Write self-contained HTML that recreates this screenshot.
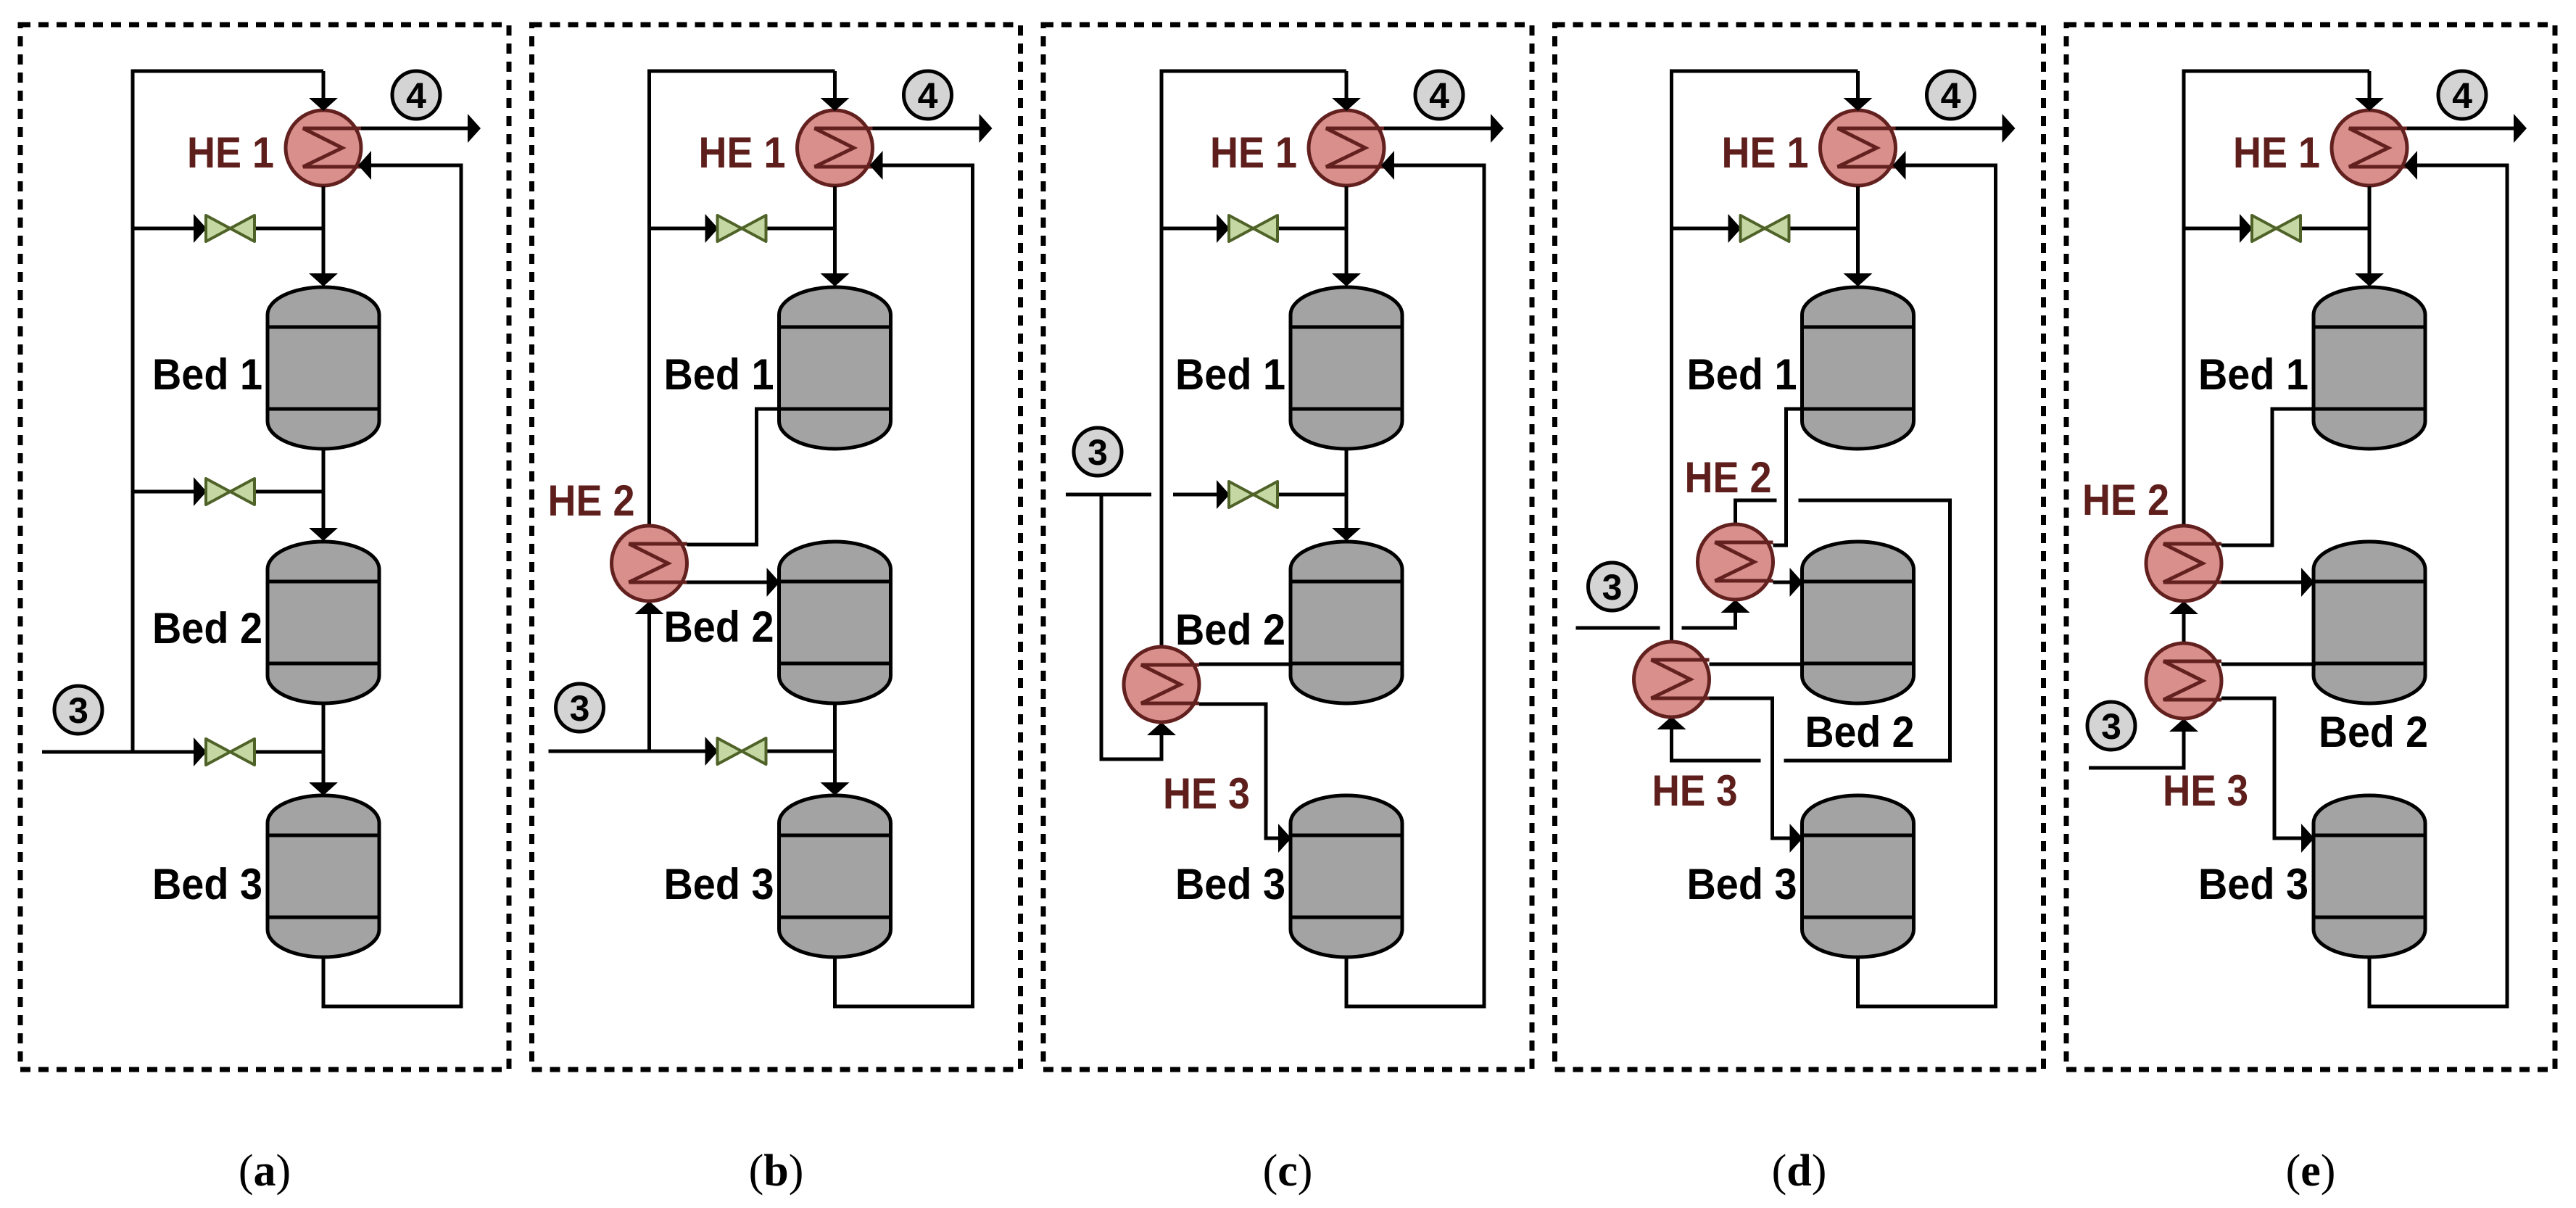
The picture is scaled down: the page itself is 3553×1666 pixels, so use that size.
<!DOCTYPE html>
<html><head><meta charset="utf-8"><style>html,body{margin:0;padding:0;background:#fff}svg{display:block}</style></head>
<body>
<svg xmlns="http://www.w3.org/2000/svg" xmlns:xlink="http://www.w3.org/1999/xlink" width="3553" height="1666" viewBox="0 0 3553 1666">
<defs>
<g id="bed">
<path d="M-77,38 A77,38 0 0 1 77,38 L77,185 A77,38 0 0 1 -77,185 Z" fill="#a3a3a3" stroke="#000" stroke-width="5"/>
<line x1="-77" y1="55" x2="77" y2="55" stroke="#000" stroke-width="5"/>
<line x1="-77" y1="168" x2="77" y2="168" stroke="#000" stroke-width="5"/>
</g>
<g id="he">
<circle cx="0" cy="0" r="52" fill="#d98f8c" stroke="#62201e" stroke-width="5"/>
<path d="M52,-27 L-28,-27 L26,0 L-28,26 L52,26" fill="none" stroke="#62201e" stroke-width="5"/>
</g>
<g id="valve">
<path d="M0,-18 L67,18 L67,-18 L0,18 Z" fill="#c5d8a4" stroke="#4f6228" stroke-width="4" stroke-linejoin="round"/>
</g>
<g id="box">
<rect x="28" y="34" width="674" height="1441" fill="none" stroke="#000" stroke-width="7" stroke-dasharray="14 11"/>
</g>
<g id="common">
<use xlink:href="#box"/>
<use xlink:href="#he" x="446" y="204"/>
<use xlink:href="#bed" x="446" y="396"/>
<use xlink:href="#bed" x="446" y="747"/>
<use xlink:href="#bed" x="446" y="1097"/>
<g stroke="#000" stroke-width="5" fill="none">
<path d="M446,98 L446,136"/>
<path d="M498,177 L646,177"/>
<path d="M511,228 L636,228 L636,1388 L446,1388 L446,1321"/>
<path d="M446,257 L446,380"/>
<path d="M446,315 L351,315"/>
</g>
<g fill="#000">
<polygon points="426,135 466,135 446,153"/>
<polygon points="645,157 645,197 663,177"/>
<polygon points="512,208 512,248 494,228"/>
<polygon points="426,377 466,377 446,395"/>
</g>
<circle cx="574" cy="131" r="33" fill="#d4d4d4" stroke="#000" stroke-width="5"/>
<text x="574" y="149" font-family="Liberation Sans, sans-serif" font-weight="bold" font-size="50" text-anchor="middle">4</text>
<text x="258" y="231" font-family="Liberation Sans, sans-serif" font-weight="bold" font-size="60" fill="#5e1f1c" textLength="120" lengthAdjust="spacingAndGlyphs">HE 1</text>
<text x="210" y="537" font-family="Liberation Sans, sans-serif" font-weight="bold" font-size="60" textLength="152" lengthAdjust="spacingAndGlyphs">Bed 1</text>
<text x="210" y="1240" font-family="Liberation Sans, sans-serif" font-weight="bold" font-size="60" textLength="152" lengthAdjust="spacingAndGlyphs">Bed 3</text>
</g>
</defs>

<!-- Panel (a) -->
<g>
<use xlink:href="#common"/>
<g stroke="#000" stroke-width="5" fill="none">
<path d="M183,1037 L183,98 L446,98"/>
<path d="M183,315 L268,315"/>
<path d="M446,619 L446,730"/>
<path d="M183,678 L268,678 M351,678 L446,678"/>
<path d="M58,1037 L268,1037 M351,1037 L446,1037"/>
<path d="M446,971 L446,1081"/>
</g>
<g fill="#000">
<polygon points="267,295 267,335 285,315"/>
<polygon points="267,658 267,698 285,678"/>
<polygon points="267,1017 267,1057 285,1037"/>
<polygon points="426,728 466,728 446,746"/>
<polygon points="426,1079 466,1079 446,1097"/>
</g>
<use xlink:href="#valve" x="284" y="315"/>
<use xlink:href="#valve" x="284" y="678"/>
<use xlink:href="#valve" x="284" y="1037"/>
<circle cx="108" cy="979" r="33" fill="#d4d4d4" stroke="#000" stroke-width="5"/>
<text x="108" y="997" font-family="Liberation Sans, sans-serif" font-weight="bold" font-size="50" text-anchor="middle">3</text>
<text x="210" y="887" font-family="Liberation Sans, sans-serif" font-weight="bold" font-size="60" textLength="152" lengthAdjust="spacingAndGlyphs">Bed 2</text>
<text x="365" y="1635" font-family="Liberation Serif, serif" font-size="62" text-anchor="middle">(<tspan font-weight="bold">a</tspan>)</text>
</g>

<!-- Panel (b) -->
<g transform="translate(705.5,0)">
<use xlink:href="#common"/>
<g stroke="#000" stroke-width="5" fill="none">
<path d="M190,725 L190,98 L446,98"/>
<path d="M190,315 L268,315"/>
<path d="M242,751 L338,751 L338,564 L372,564"/>
<path d="M242,803 L352,803"/>
<path d="M51,1036 L268,1036 M351,1036 L446,1036"/>
<path d="M190,1036 L190,846"/>
<path d="M446,970 L446,1081"/>
</g>
<g fill="#000">
<polygon points="267,295 267,335 285,315"/>
<polygon points="352,783 352,823 370,803"/>
<polygon points="267,1016 267,1056 285,1036"/>
<polygon points="170,847 210,847 190,829"/>
<polygon points="426,1079 466,1079 446,1097"/>
</g>
<use xlink:href="#valve" x="284" y="315"/>
<use xlink:href="#valve" x="284" y="1036"/>
<use xlink:href="#he" x="190" y="777"/>
<circle cx="94" cy="976" r="33" fill="#d4d4d4" stroke="#000" stroke-width="5"/>
<text x="94" y="994" font-family="Liberation Sans, sans-serif" font-weight="bold" font-size="50" text-anchor="middle">3</text>
<text x="50" y="711" font-family="Liberation Sans, sans-serif" font-weight="bold" font-size="60" fill="#5e1f1c" textLength="120" lengthAdjust="spacingAndGlyphs">HE 2</text>
<text x="210" y="885" font-family="Liberation Sans, sans-serif" font-weight="bold" font-size="60" textLength="152" lengthAdjust="spacingAndGlyphs">Bed 2</text>
<text x="365" y="1635" font-family="Liberation Serif, serif" font-size="62" text-anchor="middle">(<tspan font-weight="bold">b</tspan>)</text>
</g>

<!-- Panel (c) -->
<g transform="translate(1411,0)">
<use xlink:href="#common"/>
<g stroke="#000" stroke-width="5" fill="none">
<path d="M191,892 L191,98 L446,98"/>
<path d="M191,315 L268,315"/>
<path d="M446,619 L446,730"/>
<path d="M59,682 L177,682 M207,682 L268,682 M351,682 L446,682"/>
<path d="M108,682 L108,1047 L191,1047 L191,1013"/>
<path d="M243,916 L372,916"/>
<path d="M243,971 L335,971 L335,1156 L352,1156"/>
</g>
<g fill="#000">
<polygon points="267,295 267,335 285,315"/>
<polygon points="267,662 267,702 285,682"/>
<polygon points="426,728 466,728 446,746"/>
<polygon points="171,1014 211,1014 191,996"/>
<polygon points="352,1136 352,1176 370,1156"/>
</g>
<use xlink:href="#valve" x="284" y="315"/>
<use xlink:href="#valve" x="284" y="682"/>
<use xlink:href="#he" x="191" y="944"/>
<circle cx="103" cy="623" r="33" fill="#d4d4d4" stroke="#000" stroke-width="5"/>
<text x="103" y="641" font-family="Liberation Sans, sans-serif" font-weight="bold" font-size="50" text-anchor="middle">3</text>
<text x="193" y="1115" font-family="Liberation Sans, sans-serif" font-weight="bold" font-size="60" fill="#5e1f1c" textLength="120" lengthAdjust="spacingAndGlyphs">HE 3</text>
<text x="210" y="889" font-family="Liberation Sans, sans-serif" font-weight="bold" font-size="60" textLength="152" lengthAdjust="spacingAndGlyphs">Bed 2</text>
<text x="365" y="1635" font-family="Liberation Serif, serif" font-size="62" text-anchor="middle">(<tspan font-weight="bold">c</tspan>)</text>
</g>

<!-- Panel (d) -->
<g transform="translate(2116.5,0)">
<use xlink:href="#common"/>
<g stroke="#000" stroke-width="5" fill="none">
<path d="M189,886 L189,98 L446,98"/>
<path d="M189,315 L268,315"/>
<path d="M241,916 L372,916"/>
<path d="M241,963 L328,963 L328,1156 L352,1156"/>
<path d="M329,752 L347,752 L347,564 L372,564"/>
<path d="M329,803 L352,803"/>
<path d="M277,723 L277,690 L334,690 M364,690 L573,690 L573,1049 L344,1049 M312,1049 L189,1049 L189,1005"/>
<path d="M57,866 L173,866 M203,866 L277,866 L277,843"/>
</g>
<g fill="#000">
<polygon points="267,295 267,335 285,315"/>
<polygon points="352,1136 352,1176 370,1156"/>
<polygon points="352,783 352,823 370,803"/>
<polygon points="169,1006 209,1006 189,988"/>
<polygon points="257,845 297,845 277,827"/>
</g>
<use xlink:href="#valve" x="284" y="315"/>
<use xlink:href="#he" x="189" y="937"/>
<use xlink:href="#he" x="277" y="775"/>
<circle cx="107" cy="809" r="33" fill="#d4d4d4" stroke="#000" stroke-width="5"/>
<text x="107" y="827" font-family="Liberation Sans, sans-serif" font-weight="bold" font-size="50" text-anchor="middle">3</text>
<text x="207" y="679" font-family="Liberation Sans, sans-serif" font-weight="bold" font-size="60" fill="#5e1f1c" textLength="120" lengthAdjust="spacingAndGlyphs">HE 2</text>
<text x="162" y="1111" font-family="Liberation Sans, sans-serif" font-weight="bold" font-size="60" fill="#5e1f1c" textLength="118" lengthAdjust="spacingAndGlyphs">HE 3</text>
<text x="373" y="1030" font-family="Liberation Sans, sans-serif" font-weight="bold" font-size="60" textLength="151" lengthAdjust="spacingAndGlyphs">Bed 2</text>
<text x="365" y="1635" font-family="Liberation Serif, serif" font-size="62" text-anchor="middle">(<tspan font-weight="bold">d</tspan>)</text>
</g>

<!-- Panel (e) -->
<g transform="translate(2822,0)">
<use xlink:href="#common"/>
<g stroke="#000" stroke-width="5" fill="none">
<path d="M190,725 L190,98 L446,98"/>
<path d="M190,315 L268,315"/>
<path d="M242,752 L312,752 L312,564 L372,564"/>
<path d="M242,803 L352,803"/>
<path d="M190,887 L190,846"/>
<path d="M242,916 L372,916"/>
<path d="M242,963 L315,963 L315,1156 L352,1156"/>
<path d="M59,1059 L190,1059 L190,1008"/>
</g>
<g fill="#000">
<polygon points="267,295 267,335 285,315"/>
<polygon points="352,783 352,823 370,803"/>
<polygon points="170,847 210,847 190,829"/>
<polygon points="352,1136 352,1176 370,1156"/>
<polygon points="170,1009 210,1009 190,991"/>
</g>
<use xlink:href="#valve" x="284" y="315"/>
<use xlink:href="#he" x="190" y="777"/>
<use xlink:href="#he" x="190" y="939"/>
<circle cx="90" cy="1001" r="33" fill="#d4d4d4" stroke="#000" stroke-width="5"/>
<text x="90" y="1019" font-family="Liberation Sans, sans-serif" font-weight="bold" font-size="50" text-anchor="middle">3</text>
<text x="50" y="710" font-family="Liberation Sans, sans-serif" font-weight="bold" font-size="60" fill="#5e1f1c" textLength="120" lengthAdjust="spacingAndGlyphs">HE 2</text>
<text x="161" y="1111" font-family="Liberation Sans, sans-serif" font-weight="bold" font-size="60" fill="#5e1f1c" textLength="118" lengthAdjust="spacingAndGlyphs">HE 3</text>
<text x="376" y="1030" font-family="Liberation Sans, sans-serif" font-weight="bold" font-size="60" textLength="151" lengthAdjust="spacingAndGlyphs">Bed 2</text>
<text x="365" y="1635" font-family="Liberation Serif, serif" font-size="62" text-anchor="middle">(<tspan font-weight="bold">e</tspan>)</text>
</g>
</svg>
</body></html>
